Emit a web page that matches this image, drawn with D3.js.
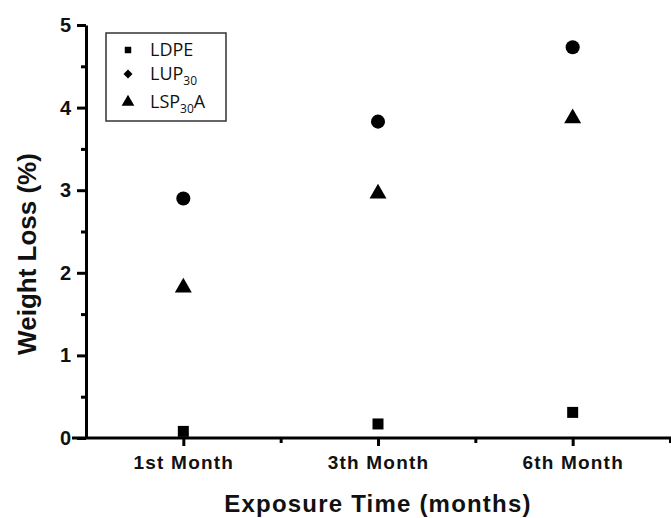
<!DOCTYPE html>
<html>
<head>
<meta charset="utf-8">
<script src="https://cdn.jsdelivr.net/npm/d3@7"></script>
<style>
  body { margin: 0; background: #fff; }
  svg { display: block; }
  .axis path, .axis line { stroke: #000; stroke-width: 3; }
  .axis text { font-family: "Liberation Sans", Arial, sans-serif; font-weight: bold; fill: #111; }
  .legend text { font-family: "Open Sans", sans-serif; fill: #111; }
</style>
</head>
<body>
<svg width="671" height="518"></svg>
<script>
const categories = ["1st Month", "3th Month", "6th Month"];
const ldpe = [0.08, 0.17, 0.31];
const lup30 = [2.90, 3.83, 4.73];
const lsp30a = [1.82, 2.96, 3.87];
const yTicks = [0, 1, 2, 3, 4, 5];

const series = [
  {name: "LDPE", sub: "", tail: "", values: ldpe, symbol: d3.symbolSquare, size: 121},
  {name: "LUP", sub: "30", tail: "", values: lup30, symbol: d3.symbolCircle, size: 155},
  {name: "LSP", sub: "30", tail: "A", values: lsp30a, symbol: d3.symbolTriangle, size: 125}
];

const svg = d3.select("svg");

const x = d3.scaleLinear().domain([0.5, 3.5]).range([86, 670]);
const y = d3.scaleLinear().domain([0, 5]).range([438, 25]);

// minor ticks first, then the major axes
svg.append("g")
    .attr("class", "axis")
    .attr("transform", "translate(86,0)")
    .call(d3.axisLeft(y).tickValues([0.5, 1.5, 2.5, 3.5, 4.5]).tickSize(5).tickFormat(""))
    .call(g => g.select(".domain").remove());

svg.append("g")
    .attr("class", "axis")
    .attr("transform", "translate(0,438)")
    .call(d3.axisBottom(x).tickValues([1.5, 2.5, 3.5]).tickSize(5).tickFormat(""))
    .call(g => g.select(".domain").remove());

const yAxis = svg.append("g")
    .attr("class", "axis")
    .attr("transform", "translate(86,0)")
    .call(d3.axisLeft(y).tickValues(yTicks).tickSize(9).tickSizeOuter(0).tickPadding(6).tickFormat(d3.format("d")));
yAxis.selectAll("text").style("font-size", "20px");

const xAxis = svg.append("g")
    .attr("class", "axis")
    .attr("transform", "translate(0,438)")
    .call(d3.axisBottom(x).tickValues([1, 2, 3]).tickSize(8).tickSizeOuter(0).tickPadding(10)
        .tickFormat(d => categories[d - 1]));
xAxis.selectAll("text").style("font-size", "19px").style("letter-spacing", "1.2px");
xAxis.select(".domain").attr("d", "M72,0H671");

// axis titles
svg.append("text")
    .attr("x", 378).attr("y", 512)
    .attr("text-anchor", "middle")
    .style("font-family", "Liberation Sans, Arial, sans-serif")
    .style("font-weight", "bold")
    .style("font-size", "24px")
    .style("letter-spacing", "1.2px")
    .attr("fill", "#111")
    .text("Exposure Time (months)");

svg.append("text")
    .attr("transform", "translate(36,254) rotate(-90)")
    .attr("text-anchor", "middle")
    .style("font-family", "Liberation Sans, Arial, sans-serif")
    .style("font-weight", "bold")
    .style("font-size", "26px")
    .attr("fill", "#111")
    .text("Weight Loss (%)");

// points
series.forEach(s => {
  svg.append("g").selectAll("path")
    .data(s.values)
    .join("path")
      .attr("transform", (d, i) => `translate(${x(i + 1)},${y(d)})`)
      .attr("d", d3.symbol().type(s.symbol).size(s.size))
      .attr("fill", "#000");
});

// legend
const legend = svg.append("g").attr("class", "legend");
legend.append("rect")
    .attr("x", 106).attr("y", 33).attr("width", 120).attr("height", 88)
    .attr("fill", "#fff").attr("stroke", "#333").attr("stroke-width", 1.5);

const legendY = [50, 74, 102];
const legendSize = [42, 40, 70];
series.forEach((s, i) => {
  const row = legend.append("g").attr("transform", `translate(0,${legendY[i]})`);
  row.append("path")
      .attr("transform", i === 1 ? "translate(128,0) rotate(45)" : "translate(128,0)")
      .attr("d", d3.symbol().type(i === 1 ? d3.symbolSquare : s.symbol).size(legendSize[i]))
      .attr("fill", "#000");
  const t = row.append("text")
      .attr("x", 150).attr("y", 6)
      .style("font-size", "18px");
  t.append("tspan").text(s.name);
  if (s.sub) t.append("tspan").attr("dy", 5).style("font-size", "12px").text(s.sub);
  if (s.tail) t.append("tspan").attr("dy", -5).text(s.tail);
});
</script>
</body>
</html>
